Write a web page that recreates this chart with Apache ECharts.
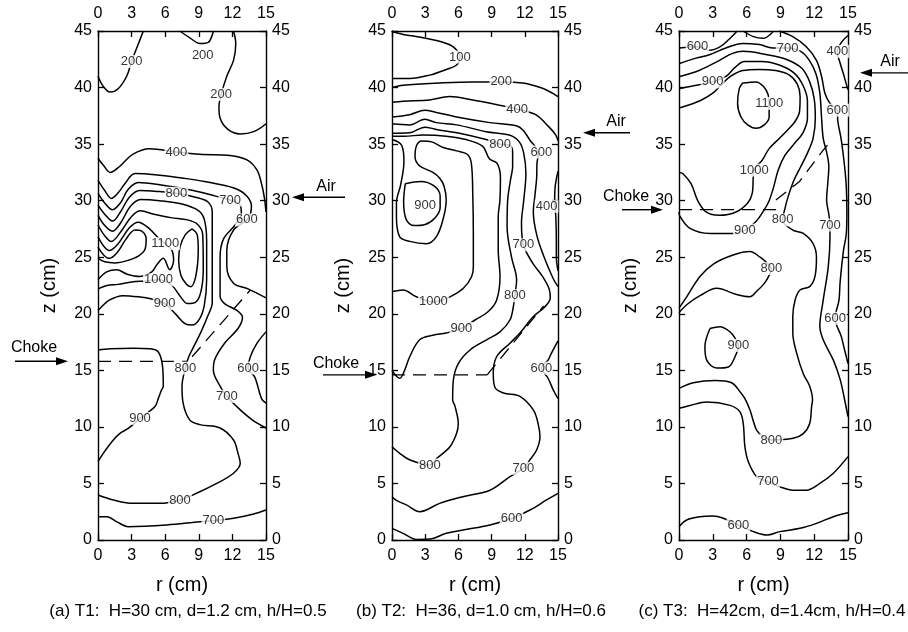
<!DOCTYPE html>
<html>
<head>
<meta charset="utf-8">
<title>Temperature contours</title>
<script src="https://cdn.jsdelivr.net/npm/echarts@6.0.0/dist/echarts.min.js"></script>
<style>
  html, body { margin: 0; padding: 0; background: #fff; }
  #chart { width: 908px; height: 632px; }
</style>
</head>
<body>
<div id="chart"></div>
<script>
// ---- axis ticks ----
const rTicks = [0, 3, 6, 9, 12, 15];
const zTicks = [0, 5, 10, 15, 20, 25, 30, 35, 40, 45];

// ---- panel captions ----
const captions = [
  '(a) T1:  H=30 cm, d=1.2 cm, h/H=0.5',
  '(b) T2:  H=36, d=1.0 cm, h/H=0.6',
  '(c) T3:  H=42cm, d=1.4cm, h/H=0.4'
];

// ---- panel (a) isotherms, points are [r (cm), z (cm)] ----
const a200a = [[4.05,45],[3.5,43.6],[3.0,42.3],[2.56,41.0],[1.8,39.9],[1.07,39.6],[0.47,40.1],[0,41.0]];
const a200b = [[7.3,45],[8.2,44.4],[9.1,43.9],[9.85,44.0],[10.15,44.5],[10.3,45]];
const a200c = [[12.1,45],[12.3,43.9],[12.1,42.4],[11.5,41.0],[11.0,39.4],[10.8,38.3],[10.9,37.3],[11.6,36.3],[12.7,35.9],[13.9,36.1],[15,36.8]];
const a400 = [[0,33.75],[0.5,33.1],[1.1,32.5],[1.9,33.0],[3.1,34.1],[4.6,34.6],[7.0,34.3],[9.1,34.1],[11.8,34.0],[13.3,33.6],[14.2,32.7],[14.6,31.5],[14.85,30.3],[15,29.0]];
const a600 = [[0,31.8],[0.6,30.9],[1.2,30.2],[1.8,30.7],[2.4,31.5],[3.3,32.4],[5.1,32.3],[7.5,32.0],[9.5,31.7],[12.2,31.1],[13.3,30.4],[13.7,29.5],[13.6,28.8],[13.3,28.3],[12.1,27.4],[11.5,25.6],[11.5,24.2],[12.1,22.7],[13.4,22.2],[15,21.4]];
const a700 = [[0,30.65],[0.6,29.8],[1.3,29.2],[2.0,29.8],[2.7,31.0],[3.6,31.6],[5.5,31.4],[8.5,30.9],[10.5,30.4],[11.8,30.06],[12.7,29.6],[12.8,28.8],[12.2,27.8],[11.2,26.6],[10.9,25],[10.9,21.6],[11.3,20.9],[12.4,20.3],[12.9,19.7],[12.5,18.7],[11.3,17.4],[10.4,15.9],[10.3,15.0],[10.9,13.6],[11.5,12.7],[12.7,11.5],[13.8,10.6],[15,9.9]];
const a800 = [[0,29.6],[0.6,28.8],[1.3,28.2],[2.0,29.0],[2.8,30.3],[3.7,30.9],[5.5,30.8],[7.0,30.65],[8.7,30.3],[9.8,29.9],[10.2,29.0],[10.2,27],[10.2,23],[10.2,21.0],[9.8,19.8],[9.2,18.4],[8.6,17.2],[8.1,16.2],[7.8,15.2],[7.5,13.6],[7.6,12.1],[8.2,10.6],[9.1,10.2],[10.9,9.9],[12.1,8.84],[12.5,7.66],[12.7,6.78],[12.1,5.9],[10.6,5.0],[8.8,4.13],[7.32,3.54],[5.54,3.24],[3.15,3.24],[1.37,3.54],[0,3.98]];
const a900 = [[0,28.7],[0.6,27.8],[1.3,27.3],[2.0,28.0],[2.9,29.5],[3.8,30.1],[5.5,30.0],[7.5,29.7],[9.0,29.1],[9.5,28.3],[9.7,26.5],[9.7,23],[9.5,20.8],[9.1,19.6],[8.4,19.0],[7.8,19.1],[7.0,19.9],[5.95,20.9],[4.8,21.3],[3.6,21.5],[2.2,21.6],[1.0,21.2],[0.3,20.6],[0,20.3]];
const a1000 = [[0,27.85],[0.6,26.9],[1.2,26.4],[2.0,27.2],[3.0,28.6],[3.8,29.1],[5.0,28.8],[6.5,28.5],[8.0,28.3],[8.9,27.9],[9.35,27.0],[9.4,24],[9.2,22.0],[8.7,21.0],[8.0,20.9],[7.3,21.6],[6.6,22.5],[5.4,23.0],[4.3,22.9],[3.0,22.8],[1.8,22.6],[0.8,22.5],[0,22.2]];
const a1100 = [[0,26.8],[0.5,26.0],[1.0,25.6],[1.8,26.2],[2.8,27.6],[3.6,28.1],[4.5,27.6],[5.4,26.7],[6.0,26.2],[6.6,25.6],[6.75,24.7],[6.4,23.9],[5.83,24.9],[5.3,24.4],[4.8,23.7],[3.75,23.3],[2.6,23.5],[1.67,23.9],[0.77,23.7],[0,23.0]];
const a1100in = [[0,25.9],[0.5,25.2],[1.0,24.9],[1.7,25.4],[2.5,26.6],[3.3,27.4],[3.9,27.3],[4.3,26.6],[4.2,25.7],[3.6,25.1],[2.6,24.7],[1.5,24.5],[0.6,24.6],[0,24.9]];
const a1100core = [[8.4,27.5],[7.8,27.0],[7.35,26.0],[7.2,24.8],[7.4,23.4],[7.9,22.6],[8.3,22.4],[8.65,23.0],[8.9,24.5],[8.95,25.8],[8.85,27.0],[8.4,27.5]];
const a600low = [[15,18.4],[14.2,17.4],[13.6,16.2],[13.4,15.2],[14.0,14.4],[14.6,12.5],[15,12.1]];
const a900low = [[0,6.92],[0.47,7.66],[1.37,8.84],[1.96,9.43],[2.7,9.87],[3.75,10.75],[5.09,11.8],[5.38,12.5],[5.69,13.3],[5.83,13.56],[5.77,15.3],[5.4,16.6],[4.64,16.9],[3.15,16.95],[1.07,16.9],[0,16.8]];
const a700low = [[0,2.06],[0.8,2.06],[1.7,1.6],[2.7,1.18],[6.13,1.33],[9.1,1.62],[10.3,1.71],[12.1,1.92],[13.9,2.3],[15,2.65]];
const aChoke = [[0,15.8],[8.0,15.8]];
const aCone = [[8.4,16.2],[13.6,22.1]];
const aLabels = [[3.0,42.3,'200'],[9.35,42.8,'200'],[11.0,39.4,'200'],[7.0,34.3,'400'],[7.0,30.65,'800'],[11.8,30.06,'700'],[13.3,28.3,'600'],[6.0,26.2,'1100'],[5.4,23.0,'1000'],[5.95,20.9,'900'],[7.8,15.2,'800'],[13.4,15.2,'600'],[11.5,12.7,'700'],[3.75,10.75,'900'],[7.32,3.54,'800'],[10.3,1.71,'700']];

// ---- panel (b) isotherms ----
const b100 = [[0,44.95],[1.0,44.7],[2.83,44.4],[4.6,44.0],[5.54,43.6],[6.14,42.7],[5.84,42.0],[4.9,41.6],[3.4,41.1],[1.6,40.8],[0,40.8]];
const b200 = [[0,40.0],[1.0,40.2],[4.3,40.4],[7.3,40.5],[9.87,40.5],[11.87,40.4],[13.7,39.9],[14.5,39.5],[15,39.2]];
const b400 = [[0,38.7],[1,38.8],[3.4,38.9],[5.2,39.2],[7.3,38.9],[9.4,38.5],[11.3,38.1],[12.98,37.6],[14.2,36.5],[14.8,35.8],[15,35.3]];
const b600 = [[0,37.4],[1.6,37.6],[2.96,38.0],[4.0,37.8],[5.84,37.4],[8.85,36.9],[11.3,36.6],[11.87,36.2],[12.5,35.3],[13.0,34.7],[13.2,34.0],[13.1,33.3],[13.07,32.0],[12.92,30.5],[12.77,29.0],[13.07,27.0],[13.67,25.2],[14.57,23.1],[15,22.4]];
const b700 = [[0,36.8],[1.6,36.7],[2.96,37.2],[4,36.9],[5.84,36.7],[8.5,36.1],[10.6,35.8],[11.5,35.2],[11.9,34.2],[12.1,32.4],[11.9,30],[11.7,28],[11.87,26.1],[12.7,24.5],[13.6,23.3],[14.2,22.2],[14.3,21.4],[13.8,20.6],[12.77,19.75],[11.56,18.3],[10.66,17.4],[9.45,16.2],[9.15,14.7],[9.3,13.5],[10.06,13.0],[11.56,12.7],[12.77,11.5],[13.2,10.3],[13.37,9.1],[13.07,7.96],[12.47,7.1],[11.87,6.34],[10.66,5.6],[8.85,4.4],[6.4,3.83],[4.3,3.24],[2.5,2.5],[1.3,3.1],[0.4,3.5],[0,3.83]];
const b800 = [[0,35.96],[1.6,36.0],[2.96,36.5],[4,36.3],[6.1,35.96],[8.5,35.4],[9.76,35.0],[10.6,34.9],[10.9,34.3],[10.9,33.0],[10.7,31.8],[10.45,30],[10.4,27.7],[10.8,25.0],[11.26,23.0],[11.1,21.6],[10.96,20.6],[10.66,19.45],[9.76,18.4],[8.55,17.7],[7.05,16.8],[5.99,15.6],[5.54,14.1],[5.48,12.4],[5.7,11.8],[5.99,10.3],[5.84,9.43],[5.24,8.25],[4.03,7.2],[3.43,6.63],[1.63,7.07],[0.7,7.66],[0,8.25]];
const b900 = [[0,35.7],[1.1,35.7],[2.8,35.8],[4.9,35.7],[6.7,35.4],[8.2,34.8],[8.8,33.7],[9.5,33.3],[9.8,32],[9.75,30],[9.6,28.6],[9.6,25.6],[9.76,23.3],[9.45,21.2],[8.7,20.2],[7.5,19.45],[6.26,18.7],[4.9,18.3],[3.7,18.1],[2.5,17.7],[1.6,16.2],[1.14,15.0],[0.7,14.3],[0.3,14.6],[0,15.0]];
const b900ring = [[1.2,31.5],[2.6,31.7],[3.8,31.3],[4.35,30.4],[4.35,29.4],[3.9,28.5],[3.0,27.9],[2.0,27.8],[1.3,28.3],[1.05,29.9],[1.2,31.5]];
const b1000 = [[0,35.4],[0.87,34.9],[1.08,33.45],[0.78,31.4],[0.4,29.8],[0.4,28.6],[0.7,26.8],[1.6,26.4],[3.13,26.2],[4.0,26.8],[4.6,28.3],[4.9,30.06],[4.7,31.3],[4.3,32.0],[3.7,32.5],[2.47,33.1],[2.08,33.9],[2.23,34.9],[2.68,35.28],[3.58,35.2],[4.64,34.7],[5.84,34.4],[6.8,34.1],[7.17,33.3],[7.3,30.5],[7.35,27],[7.35,24.17],[7.2,23.3],[6.45,22.25],[5.24,21.5],[3.74,21.06],[2.2,21.5],[1.0,22.1],[0,21.96]];
const b400side = [[15,32.6],[14.75,31.3],[14.7,30.2],[14.8,28.6],[14.85,26.5],[14.85,25],[15,23.8]];
const b600side = [[15,17.6],[14.4,16.5],[14.1,15.9],[13.5,15.2],[14.1,14.3],[14.6,13.2],[15,12.5]];
const b600low = [[0,1.03],[1.0,0.59],[2.2,0.05],[3.4,0.08],[4.9,0.59],[6.4,0.88],[8.85,1.33],[10.8,1.9],[12.47,2.65],[13.97,3.54],[15,4.13]];
const bChoke = [[0,14.6],[8.6,14.6]];
const bCone = [[8.6,14.6],[11.6,18.2],[13.7,20.7]];
const bLabels = [[6.14,42.7,'100'],[9.87,40.5,'200'],[11.3,38.1,'400'],[9.76,35.0,'800'],[13.5,34.3,'600'],[3.0,29.6,'900'],[13.97,29.5,'400'],[11.87,26.1,'700'],[11.1,21.6,'800'],[3.74,21.06,'1000'],[6.26,18.7,'900'],[13.5,15.2,'600'],[3.43,6.63,'800'],[11.87,6.34,'700'],[10.8,1.9,'600']];

// ---- panel (c) isotherms ----
const c600a = [[0,43.5],[1.64,43.6],[2.75,43.3],[3.63,43.6],[4.37,44.2],[5.17,45]];
const c600top = [[5.7,45],[6.6,44.5],[7.48,44.35],[8.22,44.8],[8.37,45]];
const c600 = [[8.9,45],[10.1,44.5],[11.3,43.6],[12.2,42.4],[12.66,40.96],[12.95,39.5],[13.4,38.6],[14.05,38.0],[14.1,37.0],[14.4,35.4],[14.7,33.0],[14.85,31.2],[14.9,29.0],[14.85,27.1],[14.6,25.6],[14.3,22.8],[14.2,21.2],[13.85,19.6],[14.4,18.0],[14.7,16.8],[15,15.6]];
const c400 = [[15,44.6],[14.5,44.1],[14.05,43.2],[14.35,42.0],[14.6,41.2],[14.85,40.3],[15,39.8]];
const c700 = [[0,42.1],[1.51,42.6],[2.69,42.9],[4.17,43.5],[5.65,43.9],[7.13,43.8],[8.3,43.5],[9.64,43.5],[10.8,43.2],[11.57,42.4],[12.16,41.2],[12.5,39.5],[12.65,37.4],[12.8,35.5],[13.1,34.3],[13.3,33.0],[13.2,31.5],[13.1,30.06],[13.3,28.8],[13.4,27.85],[13.4,26.8],[13.25,24.17],[12.8,21.2],[12.5,18.9],[12.8,17.7],[13.7,15.9],[14.3,14.2],[14.7,12.4],[15,10.9]];
const c800 = [[0,40.96],[1.5,41.4],[2.6,41.9],[3.6,42.4],[4.7,43.0],[5.7,43.2],[7.8,42.9],[9.5,42.5],[10.9,41.7],[11.6,40.5],[12.0,39.0],[12.1,37.3],[11.9,35.5],[11.4,34.2],[10.8,33.0],[10.2,31.8],[9.7,30.4],[9.4,29.3],[9.2,28.3],[10.1,27.4],[11.03,27.1],[11.9,26.2],[12.2,25.0],[12.07,23.3],[11.6,22.4],[10.74,22.1],[10.3,21.2],[10.1,19.75],[10.1,18.3],[10.45,16.5],[11.03,14.7],[11.6,13.6],[11.85,12.4],[11.77,11.8],[11.6,10.3],[11.03,9.4],[10.14,8.99],[8.2,8.84],[7.48,9.13],[6.9,9.7],[6.6,10.5],[6.3,11.5],[5.85,12.5],[5.5,13.0],[4.67,13.9],[3.2,14.1],[1.27,13.9],[0,13.4]];
const c900 = [[0,39.9],[1.0,40.1],[2.99,40.5],[4.2,41.0],[5.0,41.8],[5.8,42.3],[7.3,42.3],[8.9,42.0],[10.2,41.3],[11.0,40.2],[11.4,38.8],[11.4,37.3],[11.0,36.0],[10.2,35.0],[9.4,34.0],[8.8,32.7],[8.4,31.2],[8.0,30.0],[7.57,29.2],[6.83,28.15],[5.85,27.4],[4.82,27.1],[2.75,27.1],[0.98,27.55],[0.09,28.6],[0,29.0]];
const c1000 = [[0,38.2],[1.0,38.5],[2.0,38.9],[3.0,39.5],[3.8,40.3],[4.6,41.0],[5.65,41.5],[7.1,41.6],[8.6,41.5],[9.8,41.1],[10.5,40.3],[10.75,39.2],[10.7,37.9],[10.3,37.0],[9.6,36.2],[8.9,35.5],[8.0,34.6],[7.4,33.6],[6.67,32.7],[6.5,30.65],[6.1,29.8],[5.06,29.0],[3.58,28.7],[2.4,29.0],[1.66,30.0],[1.07,31.5],[0.33,32.4],[0,32.5]];
const c1100 = [[5.65,40.4],[6.83,40.5],[7.5,40.1],[7.9,39.4],[8.0,38.6],[8.0,37.4],[7.57,36.7],[6.83,36.4],[6.1,36.7],[5.5,37.4],[5.2,38.6],[5.35,39.9],[5.65,40.4]];
const c800mid = [[0,20.5],[0.68,21.5],[1.86,23.3],[3.05,24.4],[4.8,25.2],[6.3,25.5],[7.2,25.0],[7.8,24.5],[8.2,24.0],[7.9,23.2],[7.5,22.6],[6.9,22.0],[6.3,21.5],[5.1,21.7],[3.35,22.25],[1.86,21.6],[0.68,20.8],[0,20.1]];
const c900mid = [[2.75,18.7],[3.64,18.85],[4.53,18.4],[5.0,17.8],[5.27,17.2],[4.97,16.2],[4.38,15.3],[3.35,15.2],[2.46,15.9],[2.3,17.1],[2.75,18.7]];
const c700low = [[0,11.64],[0.98,11.9],[2.46,12.2],[4.53,11.9],[5.4,11.35],[5.7,10.3],[5.85,8.25],[6.15,6.92],[6.9,5.6],[7.9,5.15],[8.96,4.7],[10.1,4.4],[11.3,4.4],[12.5,5.0],[13.7,5.9],[15,7.37]];
const c600low = [[0,1.18],[0.68,1.77],[1.86,2.06],[3.05,2.12],[3.93,1.92],[5.27,1.33],[6.6,0.74],[7.8,0.44],[8.96,0.74],[10.74,1.03],[12.2,1.47],[13.7,2.06],[15,2.4]];
const cChoke = [[0,29.2],[9.0,29.2]];
const cCone = [[8.6,30.05],[10.7,31.7],[12.75,34.4],[13.5,35.3]];
const cLabels = [[1.64,43.6,'600'],[9.64,43.5,'700'],[14.05,43.2,'400'],[2.99,40.5,'900'],[8.0,38.6,'1100'],[14.05,38.0,'600'],[6.67,32.7,'1000'],[9.2,28.3,'800'],[13.4,27.85,'700'],[5.85,27.4,'900'],[8.2,24.0,'800'],[13.85,19.6,'600'],[5.27,17.2,'900'],[8.2,8.84,'800'],[7.9,5.15,'700'],[5.27,1.33,'600']];

// ---- air inlet and choke heights, z (cm) ----
const airLevels = [30.3, 36.0, 41.3];
const chokeLevels = [15.8, 14.6, 29.2];

// ---- assemble panels ----
const panels = [
  { lines: [a200a, a200b, a200c, a400, a600, a700, a800, a900, a1000, a1100, a1100in, a1100core, a600low, a900low, a700low],
    dashed: [aChoke, aCone], labels: aLabels },
  { lines: [b100, b200, b400, b600, b700, b800, b900, b900ring, b1000, b400side, b600side, b600low],
    dashed: [bChoke, bCone], labels: bLabels },
  { lines: [c600a, c600top, c600, c400, c700, c800, c900, c1000, c1100, c800mid, c900mid, c700low, c600low],
    dashed: [cChoke, cCone], labels: cLabels }
];

const FONT = '"Liberation Sans", Arial, Helvetica, sans-serif';
const INK = '#000';
const grids = [
  { left: 98, top: 31, width: 168, height: 509 },
  { left: 392, top: 31, width: 166, height: 509 },
  { left: 679, top: 31, width: 169, height: 509 }
];
const captionX = [188, 481, 772];

const axisLineStyle = { color: INK, width: 1.4 };
function xAxisFor(i, pos) {
  return {
    type: 'value', gridIndex: i, position: pos,
    min: rTicks[0], max: rTicks[rTicks.length - 1], interval: rTicks[1] - rTicks[0],
    axisLine: { show: true, onZero: false, lineStyle: axisLineStyle },
    axisTick: { show: true, inside: true, length: 6, lineStyle: { color: INK, width: 1.3 } },
    axisLabel: { color: INK, fontSize: 16, fontFamily: FONT, margin: pos === 'bottom' ? 8 : 9 },
    splitLine: { show: false },
    name: pos === 'bottom' ? 'r (cm)' : '',
    nameLocation: 'middle', nameGap: 35,
    nameTextStyle: { color: INK, fontSize: 20, fontFamily: FONT }
  };
}
function yAxisFor(i, pos) {
  return {
    type: 'value', gridIndex: i, position: pos,
    min: zTicks[0], max: zTicks[zTicks.length - 1], interval: zTicks[1] - zTicks[0],
    axisLine: { show: true, onZero: false, lineStyle: axisLineStyle },
    axisTick: { show: true, inside: true, length: 6, lineStyle: { color: INK, width: 1.3 } },
    axisLabel: { color: INK, fontSize: 16, fontFamily: FONT, margin: 6 },
    splitLine: { show: false },
    name: pos === 'left' ? 'z (cm)' : '',
    nameLocation: 'middle', nameGap: 39, nameRotate: 90,
    nameTextStyle: { color: INK, fontSize: 20, fontFamily: FONT }
  };
}

const xAxis = [], yAxis = [], series = [];
panels.forEach((p, i) => {
  xAxis.push(xAxisFor(i, 'bottom'), xAxisFor(i, 'top'));
  yAxis.push(yAxisFor(i, 'left'), yAxisFor(i, 'right'));
  p.lines.forEach(pts => series.push({
    type: 'line', xAxisIndex: 2 * i, yAxisIndex: 2 * i, data: pts,
    smooth: 0.35, symbol: 'none', silent: true, z: 2,
    lineStyle: { color: INK, width: 1.5 }
  }));
  p.dashed.forEach(pts => series.push({
    type: 'line', xAxisIndex: 2 * i, yAxisIndex: 2 * i, data: pts,
    symbol: 'none', silent: true, z: 3,
    lineStyle: { color: INK, width: 1.3, type: [13, 8] }
  }));
  series.push({
    type: 'scatter', xAxisIndex: 2 * i, yAxisIndex: 2 * i, silent: true, z: 5,
    symbolSize: 1, itemStyle: { color: 'rgba(0,0,0,0)' },
    data: p.labels.map(l => ({ value: [l[0], l[1]], name: l[2] })),
    label: {
      show: true, position: 'inside', formatter: '{b}',
      color: INK, fontSize: 13, fontFamily: FONT,
      backgroundColor: '#fff', padding: [0, 1]
    }
  });
});

const chart = echarts.init(document.getElementById('chart'), null, { renderer: 'canvas' });
chart.setOption({
  animation: false,
  backgroundColor: '#fff',
  grid: grids,
  xAxis, yAxis, series
});

// ---- arrows and annotations, anchored to the axes ----
function arrowShapes(xTail, xTip, y) {
  const dir = xTip > xTail ? 1 : -1;
  const head = 12, half = 4;
  return [
    { type: 'line', silent: true, shape: { x1: xTail, y1: y, x2: xTip - dir * head, y2: y },
      style: { stroke: INK, lineWidth: 1.4 } },
    { type: 'polygon', silent: true,
      shape: { points: [[xTip, y], [xTip - dir * head, y - half], [xTip - dir * head, y + half]] },
      style: { fill: INK } }
  ];
}
const airOffsets = [{ tip: 26, tail: 79, text: 60 }, { tip: 25, tail: 72, text: 58 }, { tip: 12, tail: 60, text: 42 }];
const chokeOffsets = [{ tip: -30, tail: -83, text: -64, dy: -14 }, { tip: -15, tail: -69, text: -56, dy: -11 }, { tip: -16, tail: -57, text: -53, dy: -13 }];
const graphics = [];
panels.forEach((p, i) => {
  const [xr, ya] = chart.convertToPixel({ gridIndex: i }, [15, airLevels[i]]);
  const ao = airOffsets[i];
  graphics.push(...arrowShapes(xr + ao.tail, xr + ao.tip, ya));
  graphics.push({ type: 'text', silent: true, x: xr + ao.text, y: ya - 11,
    style: { text: 'Air', fill: INK, font: '16px ' + FONT, textAlign: 'center', textVerticalAlign: 'middle' } });

  const [xl, yc] = chart.convertToPixel({ gridIndex: i }, [0, chokeLevels[i]]);
  const co = chokeOffsets[i];
  graphics.push(...arrowShapes(xl + co.tail, xl + co.tip, yc));
  graphics.push({ type: 'text', silent: true, x: xl + co.text, y: yc + co.dy,
    style: { text: 'Choke', fill: INK, font: '16px ' + FONT, textAlign: 'center', textVerticalAlign: 'middle' } });

  graphics.push({ type: 'text', silent: true, x: captionX[i], y: 611,
    style: { text: captions[i], fill: INK, font: '17px ' + FONT, textAlign: 'center', textVerticalAlign: 'middle' } });
});
chart.setOption({ graphic: graphics });
</script>
</body>
</html>
